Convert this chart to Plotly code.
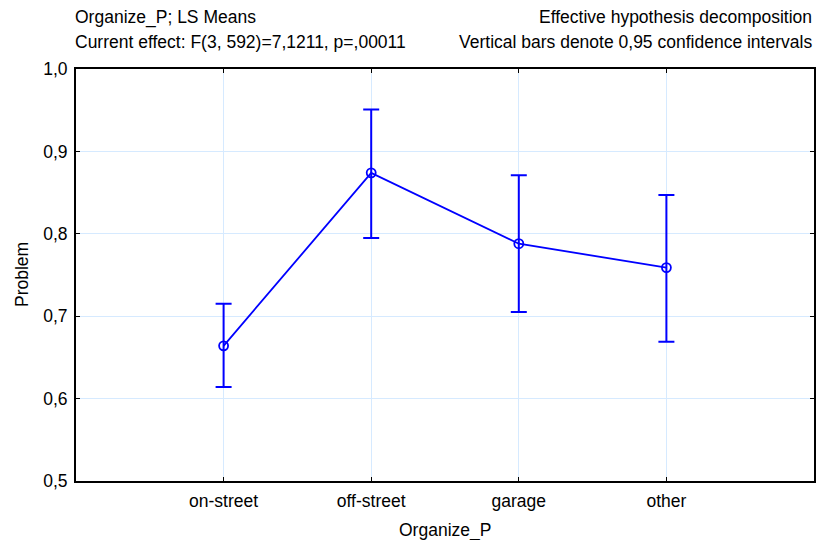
import plotly.graph_objects as go

categories = ["on-street", "off-street", "garage", "other"]
means = [0.664, 0.874, 0.788, 0.759]
upper = [0.715, 0.951, 0.871, 0.847]
lower = [0.614, 0.795, 0.705, 0.669]
yticks = [0.5, 0.6, 0.7, 0.8, 0.9, 1.0]

xpos = list(range(1, len(categories) + 1))
err_plus = [u - m for u, m in zip(upper, means)]
err_minus = [m - l for m, l in zip(means, lower)]

blue = "#0000FF"
grid = "#d6eaff"
font_family = "Liberation Sans, Arial, sans-serif"
fs = 17.5

fig = go.Figure()
fig.add_trace(go.Scatter(
    x=xpos, y=means, mode="lines+markers",
    line=dict(color=blue, width=1.8),
    marker=dict(symbol="circle-open", size=9, color=blue, line=dict(width=1.8, color=blue)),
    error_y=dict(type="data", symmetric=False, array=err_plus, arrayminus=err_minus,
                 color=blue, thickness=2, width=8),
    showlegend=False,
))

fig.update_layout(
    width=818, height=540,
    margin=dict(l=76, r=2, t=69, b=59),
    paper_bgcolor="white", plot_bgcolor="white",
    separators=",.",
    font=dict(family=font_family, size=fs, color="black"),
    xaxis=dict(
        range=[0, 5], tickmode="array", tickvals=xpos, ticktext=categories,
        showgrid=True, gridcolor=grid, gridwidth=1,
        showline=True, linecolor="black", linewidth=2, mirror="ticks",
        ticks="inside", ticklen=4, tickcolor="black", tickwidth=1,
        zeroline=False, ticklabelstandoff=3,
        tickfont=dict(size=fs),
    ),
    yaxis=dict(
        range=[0.5, 1.0], tickmode="array", tickvals=yticks, tickformat=".1f",
        showgrid=True, gridcolor=grid, gridwidth=1,
        showline=True, linecolor="black", linewidth=2, mirror="ticks",
        ticks="inside", ticklen=4, tickcolor="black", tickwidth=1,
        zeroline=False, ticklabelstandoff=3,
        tickfont=dict(size=fs),
    ),
    annotations=[
        dict(text="Organize_P", xref="paper", yref="paper", x=0.5, y=0,
             xanchor="center", yanchor="middle", yshift=-49, showarrow=False,
             font=dict(size=fs)),
        dict(text="Problem", xref="paper", yref="paper", x=0, y=0.5, textangle=-90,
             xanchor="center", yanchor="middle", xshift=-54, showarrow=False,
             font=dict(size=fs)),
        dict(text="Organize_P; LS Means", xref="paper", yref="paper", x=0, y=1,
             xanchor="left", yanchor="middle", yshift=52, xshift=-3, showarrow=False,
             font=dict(size=fs)),
        dict(text="Current effect: F(3, 592)=7,1211, p=,00011", xref="paper", yref="paper",
             x=0, y=1, xanchor="left", yanchor="middle", yshift=27, xshift=-3, showarrow=False,
             font=dict(size=fs)),
        dict(text="Effective hypothesis decomposition", xref="paper", yref="paper",
             x=1, y=1, xanchor="right", yanchor="middle", yshift=52, showarrow=False,
             font=dict(size=fs)),
        dict(text="Vertical bars denote 0,95 confidence intervals", xref="paper", yref="paper",
             x=1, y=1, xanchor="right", yanchor="middle", yshift=27, showarrow=False,
             font=dict(size=fs)),
    ],
)

fig.write_html("out.html", config={"displayModeBar": False},
               post_script="document.body.style.margin='0';document.body.style.overflow='hidden';")
